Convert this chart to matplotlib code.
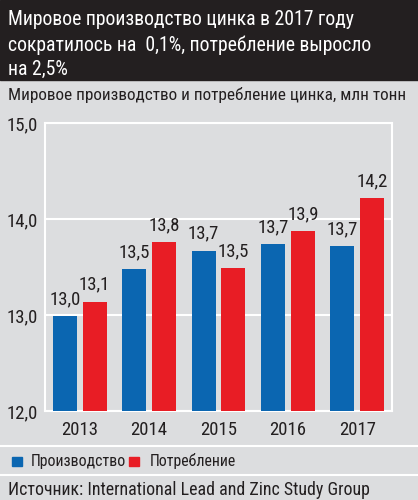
import matplotlib.pyplot as plt
from matplotlib.patches import Rectangle
from matplotlib.lines import Line2D

# Data (mln tonnes)
years = ['2013', '2014', '2015', '2016', '2017']
production = [12.99, 13.48, 13.67, 13.74, 13.72]
consumption = [13.14, 13.76, 13.49, 13.87, 14.22]
prod_labels = ['13,0', '13,5', '13,7', '13,7', '13,7']
cons_labels = ['13,1', '13,8', '13,5', '13,9', '14,2']
yticks = [12.0, 13.0, 14.0, 15.0]
ytick_labels = ['12,0', '13,0', '14,0', '15,0']

title_lines = ['Мировое производство цинка в 2017 году',
               'сократилось на  0,1%, потребление выросло',
               'на 2,5%']
subtitle = 'Мировое производство и потребление цинка, млн тонн'
source = 'Источник: International Lead and Zinc Study Group'

blue = '#0b66b1'
red = '#e81d25'
bg = '#dcdddf'
dark = '#231f20'

plt.rcParams['font.family'] = ['Roboto Condensed', 'DejaVu Sans']
fs = 13.5

W, H = 418, 500
fig = plt.figure(figsize=(W / 100, H / 100), dpi=100, facecolor=bg)

def fx(px):
    return px / W

def fy(py):
    return 1 - py / H

# title box
fig.patches.append(Rectangle((0, fy(80)), 1, 80 / H, transform=fig.transFigure,
                             color=dark, zorder=0))
for line, base in zip(title_lines, [25, 51, 75]):
    fig.text(fx(8), fy(base), line, color='white', fontsize=14.2, va='baseline',
             ha='left')
fig.text(fx(8), fy(100), subtitle, color=dark, fontsize=12.4, va='baseline', ha='left')

# separators
for py in (446, 475):
    fig.add_artist(Line2D([0, 1], [fy(py), fy(py)], color='white', lw=1.5,
                          transform=fig.transFigure))

ax = fig.add_axes([fx(45), fy(411), fx(347), 288 / H])
ax.set_facecolor(bg)
x = range(len(years))
w = 0.345
off = 0.215
ax.bar([i - off for i in x], [v - 12 for v in production], w, bottom=12,
       color=blue, zorder=3)
ax.bar([i + off for i in x], [v - 12 for v in consumption], w, bottom=12,
       color=red, zorder=3)
for i in x:
    ax.text(i - off, production[i] + 0.125, prod_labels[i], ha='center', va='baseline',
            fontsize=fs, color=dark)
    ax.text(i + off, consumption[i] + 0.125, cons_labels[i], ha='center', va='baseline',
            fontsize=fs, color=dark)

ax.set_xlim(-0.5, 4.5)
ax.set_ylim(12, 15)
ax.set_yticks(yticks)
ax.set_yticklabels(ytick_labels, fontsize=fs, color=dark)
ax.set_xticks(list(x))
ax.set_xticklabels(years, fontsize=fs, color=dark)
ax.tick_params(length=0, pad=5)
ax.tick_params(axis='x', pad=7)
ax.grid(axis='y', color='white', lw=1.5, zorder=1)
for s in ax.spines.values():
    s.set_color('white')
    s.set_linewidth(1.5)

# legend
fig.patches.append(Rectangle((fx(12), fy(466)), fx(10), 9 / H, transform=fig.transFigure,
                             color=blue))
fig.text(fx(31), fy(466), 'Производство', fontsize=11.4, color=dark, va='baseline')
fig.patches.append(Rectangle((fx(129), fy(466)), fx(10), 9 / H, transform=fig.transFigure,
                             color=red))
fig.text(fx(150), fy(466), 'Потребление', fontsize=11.4, color=dark, va='baseline')

fig.text(fx(8), fy(495), source, fontsize=12.9, color=dark, va='baseline')

fig.savefig('out.png', dpi=100, facecolor=bg)
